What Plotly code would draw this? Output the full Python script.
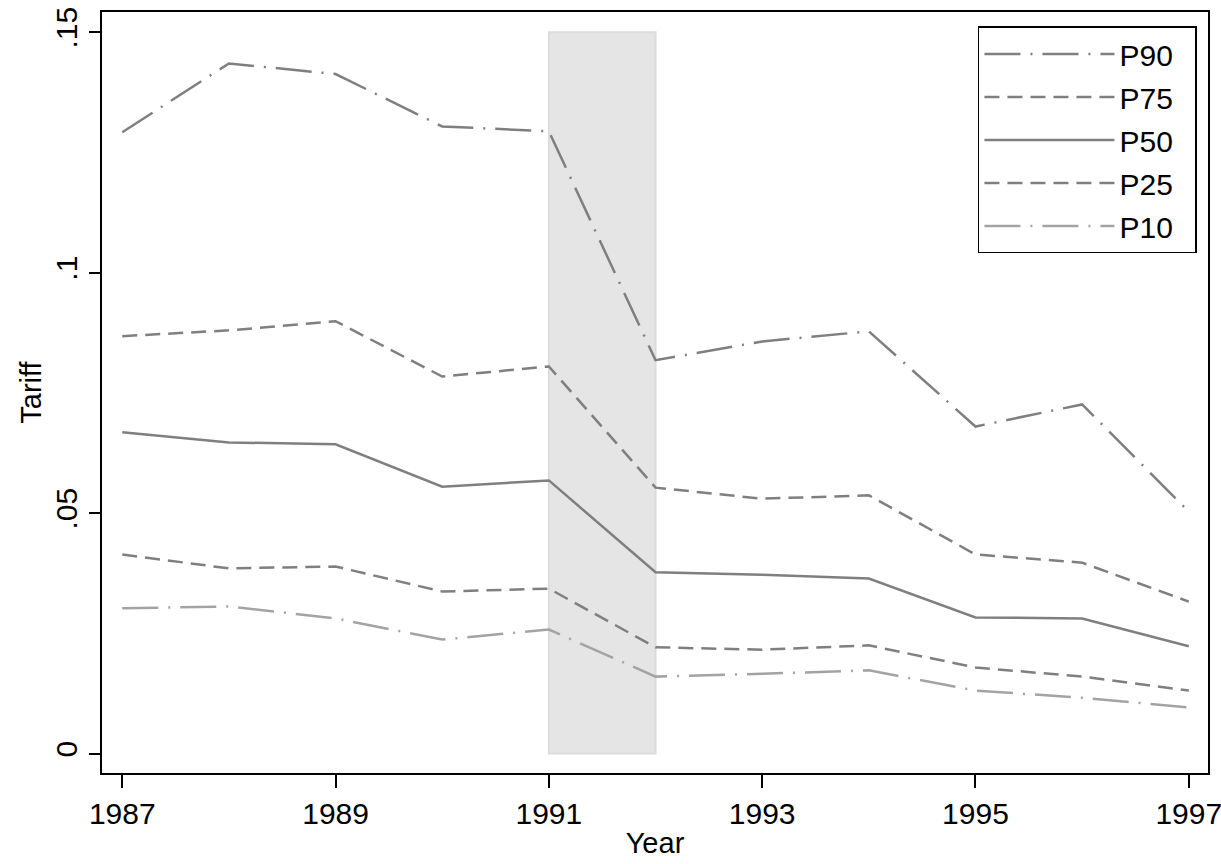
import plotly.graph_objects as go

years = [1987, 1988, 1989, 1990, 1991, 1992, 1993, 1994, 1995, 1996, 1997]
p90 = [0.1292, 0.1435, 0.1413, 0.1304, 0.1294, 0.0818, 0.0857, 0.0878, 0.0680, 0.0726, 0.0503]
p75 = [0.0868, 0.0880, 0.0899, 0.0784, 0.0805, 0.0553, 0.0530, 0.0537, 0.0414, 0.0397, 0.0316]
p50 = [0.0668, 0.0647, 0.0643, 0.0555, 0.0568, 0.0377, 0.0372, 0.0364, 0.0283, 0.0281, 0.0223]
p25 = [0.0414, 0.0385, 0.0389, 0.0337, 0.0343, 0.0221, 0.0216, 0.0225, 0.0179, 0.0160, 0.0131]
p10 = [0.0302, 0.0306, 0.0281, 0.0237, 0.0258, 0.0160, 0.0166, 0.0173, 0.0131, 0.0116, 0.0096]
series_names = ["P90", "P75", "P50", "P25", "P10"]
shade_years = [1991, 1992]
shade_y = [0, 0.15]
xtick_vals = [1987, 1989, 1991, 1993, 1995, 1997]
ytick_vals = [0, 0.05, 0.1, 0.15]
ytick_text = ["0", ".05", ".1", ".15"]

styles = {
    "P90": dict(color="#7f7f7f", dash="36px,10px,2px,10px"),
    "P75": dict(color="#7f7f7f", dash="15px,8px"),
    "P50": dict(color="#7f7f7f", dash="solid"),
    "P25": dict(color="#7f7f7f", dash="15px,8px"),
    "P10": dict(color="#a3a3a3", dash="36px,10px,2px,10px"),
}
data = {"P90": p90, "P75": p75, "P50": p50, "P25": p25, "P10": p10}

fig = go.Figure()
for name in series_names:
    st = styles[name]
    fig.add_trace(go.Scatter(
        x=years, y=data[name], mode="lines",
        name=name + "\u00a0\u00a0", legendgroup=name,
        line=dict(color=st["color"], dash=st["dash"], width=2.5),
    ))

fig.add_shape(type="rect", xref="x", yref="y",
              x0=shade_years[0], x1=shade_years[1], y0=shade_y[0], y1=shade_y[1],
              fillcolor="#e5e5e5", line=dict(color="#dcdcdc", width=2), layer="below")

font_family = "Liberation Sans, Arial, Helvetica, sans-serif"
fig.update_layout(
    width=1221, height=864,
    margin=dict(l=102, r=13, t=12, b=91),
    paper_bgcolor="white", plot_bgcolor="white",
    font=dict(family=font_family, size=28, color="black"),
    showlegend=True,
    legend=dict(
        x=0.990, y=0.981, xanchor="right", yanchor="top",
        bordercolor="black", borderwidth=1.5, bgcolor="white",
        font=dict(size=30), itemwidth=130, tracegroupgap=1,
    ),
    xaxis=dict(
        range=[1986.81, 1997.18], tickvals=xtick_vals, automargin=False,
        ticklabeloverflow="allow",
        ticks="outside", ticklen=13, tickwidth=1.5, tickcolor="black",
        showline=True, linecolor="black", linewidth=2, mirror=True,
        showgrid=False, zeroline=False,
        tickfont=dict(size=30),
        title=dict(text="Year", font=dict(size=29), standoff=4),
    ),
    yaxis=dict(
        range=[-0.00404, 0.1542], tickvals=ytick_vals, ticktext=ytick_text,
        automargin=False, ticklabeloverflow="allow",
        ticks="outside", ticklen=11, tickwidth=1.5, tickcolor="black",
        showline=True, linecolor="black", linewidth=2, mirror=True,
        showgrid=False, zeroline=False, tickangle=-90,
        tickfont=dict(size=30),
        title=dict(text="Tariff", font=dict(size=29), standoff=0),
    ),
)

fig.write_html("out.html", config={"displayModeBar": False},
               post_script="document.body.style.margin='0';")
